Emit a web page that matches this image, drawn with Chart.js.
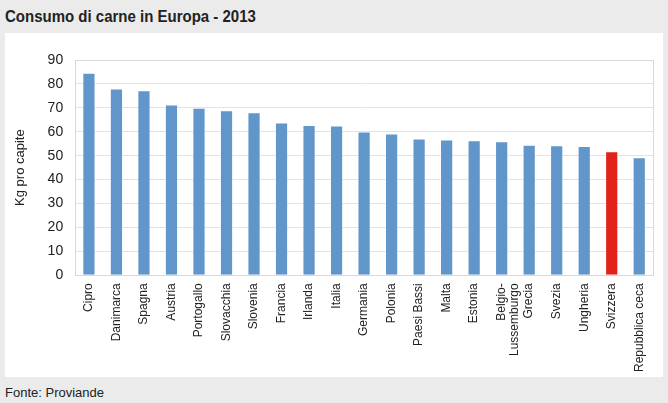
<!DOCTYPE html>
<html>
<head>
<meta charset="utf-8">
<script src="https://cdn.jsdelivr.net/npm/chart.js@4"></script>
<style>
    body { margin: 0; width: 668px; height: 403px; background: #ebebeb; position: relative; overflow: hidden; }
    #title { position: absolute; left: 5px; top: 6px; font-family: "Liberation Sans Narrow", sans-serif; font-weight: bold; font-size: 15px; color: #222; transform: scaleY(1.12); transform-origin: left top; }
    #panel { position: absolute; left: 5px; top: 33px; width: 658px; height: 344px; background: #fff; }
    #footer { position: absolute; left: 5px; top: 385px; font-family: "Liberation Sans Narrow", sans-serif; font-size: 13px; color: #222; }
</style>
</head>
<body>
<div id="title">Consumo di carne in Europa - 2013</div>
<div id="panel"><canvas id="meatChart" width="658" height="344"></canvas></div>
<div id="footer">Fonte: Proviande</div>
<script>
const countries = ['Cipro', 'Danimarca', 'Spagna', 'Austria', 'Portogallo', 'Slovacchia', 'Slovenia', 'Francia', 'Irlanda', 'Italia', 'Germania', 'Polonia', 'Paesi Bassi', 'Malta', 'Estonia', ['Belgio-', 'Lussemburgo'], 'Grecia', 'Svezia', 'Ungheria', 'Svizzera', 'Repubblica ceca'];
const kgPerCapita = [84.7, 78.1, 77.4, 71.4, 70.0, 69.0, 68.2, 63.9, 62.8, 62.6, 60.1, 59.3, 57.2, 56.8, 56.4, 56.0, 54.6, 54.4, 54.0, 51.9, 49.3];
const yTicks = [0, 10, 20, 30, 40, 50, 60, 70, 80, 90];
const highlight = 'Svizzera';

const barColors = countries.map(c => c === highlight ? '#e2231a' : '#6096c9');

const plotBorder = {
    id: 'plotBorder',
    afterDraw(chart) {
        const a = chart.chartArea;
        const ctx = chart.ctx;
        ctx.save();
        ctx.strokeStyle = '#d9d9d9';
        ctx.lineWidth = 1;
        ctx.strokeRect(Math.round(a.left) + 0.5, Math.round(a.top) + 0.5, Math.round(a.right - a.left), Math.round(a.bottom - a.top));
        ctx.restore();
    }
};

const ctx = document.getElementById('meatChart').getContext('2d');
new Chart(ctx, {
    type: 'bar',
    data: {
        labels: countries,
        datasets: [{
            label: 'Kg pro capite',
            data: kgPerCapita,
            backgroundColor: barColors,
            borderColor: 'rgba(255,255,255,0.35)',
            borderWidth: 1,
            categoryPercentage: 1,
            barPercentage: 0.48
        }]
    },
    options: {
        responsive: false,
        animation: false,
        layout: { padding: { top: 27, right: 10, left: 4, bottom: 5 } },
        plugins: { legend: { display: false }, tooltip: { enabled: false } },
        scales: {
            x: {
                grid: { display: false },
                border: { color: '#d9d9d9' },
                ticks: {
                    minRotation: 90,
                    maxRotation: 90,
                    autoSkip: false,
                    padding: 0,
                    color: '#222',
                    font: { family: '"Liberation Sans Narrow", sans-serif', size: 12, lineHeight: 1.1 }
                }
            },
            y: {
                min: 0,
                max: 90,
                afterBuildTicks: axis => { axis.ticks = yTicks.map(v => ({ value: v })); },
                grid: { color: '#e3e3e3', drawTicks: false },
                border: { color: '#d9d9d9' },
                ticks: {
                    padding: 12,
                    color: '#222',
                    font: { family: '"Liberation Sans", sans-serif', size: 14 }
                },
                title: {
                    display: true,
                    text: 'Kg pro capite',
                    color: '#222',
                    padding: { bottom: 7 },
                    font: { family: '"Liberation Sans", sans-serif', size: 13 }
                }
            }
        }
    },
    plugins: [plotBorder]
});
</script>
</body>
</html>
